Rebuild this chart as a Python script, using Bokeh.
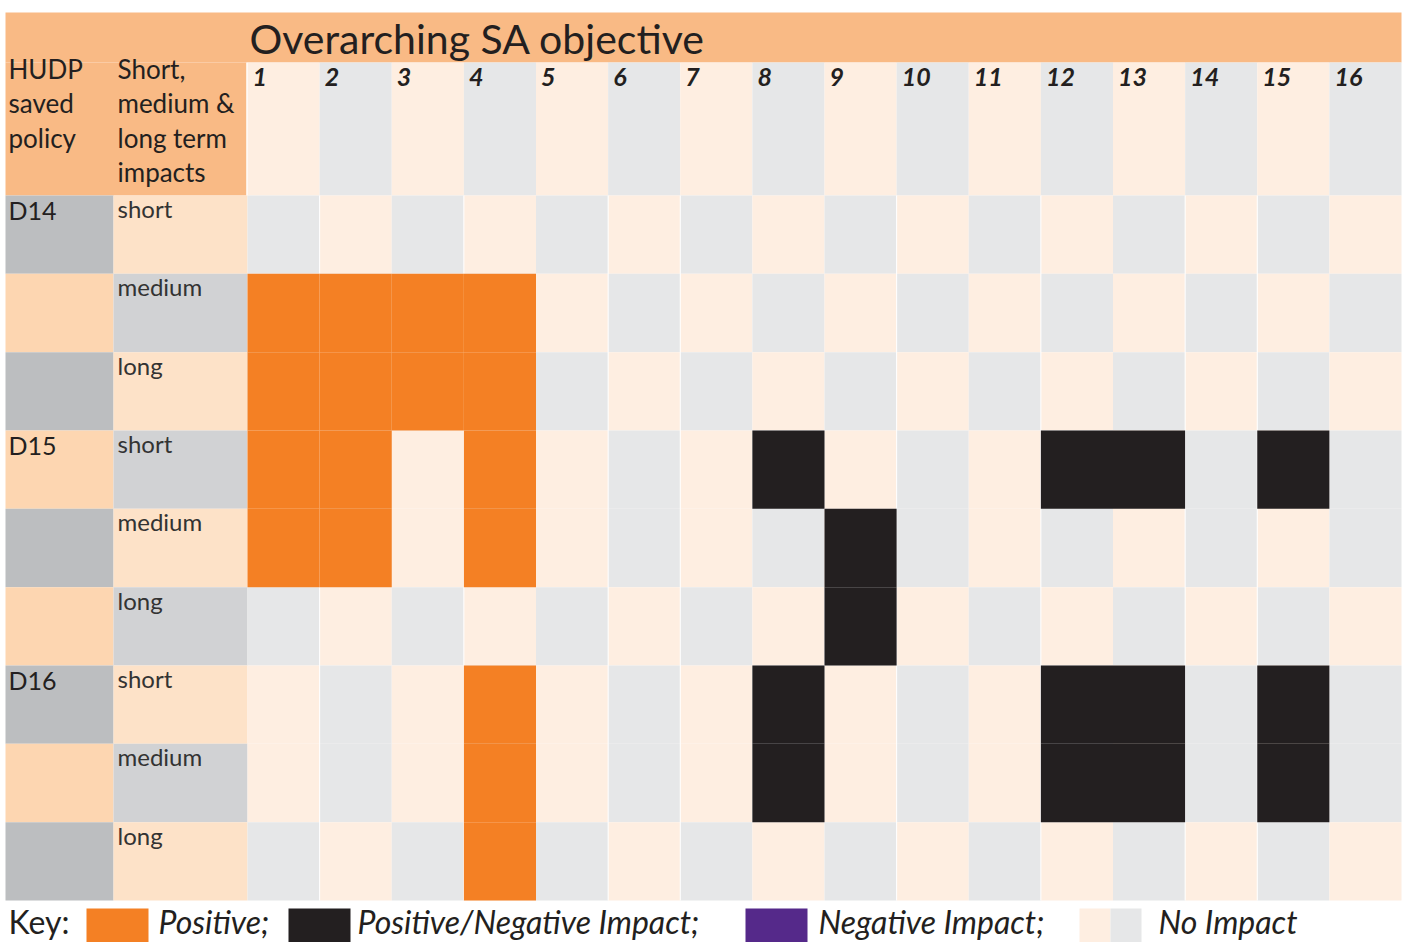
from bokeh.plotting import figure
from bokeh.models import Range1d
from bokeh.core.properties import value
from bokeh.embed import file_html
from bokeh.resources import INLINE

# ---------------- data ----------------
title = "Overarching SA objective"
objectives = ["1", "2", "3", "4", "5", "6", "7", "8", "9", "10", "11", "12", "13", "14", "15", "16"]
policies = ["D14", "D15", "D16"]
terms = ["short", "medium", "long"]
head_policy = ["HUDP", "saved", "policy"]
head_term = ["Short,", "medium &", "long term", "impacts"]
# 0 = no impact, 1 = positive, 2 = positive/negative, 3 = negative
d14_short  = [0, 0, 0, 0, 0, 0, 0, 0, 0, 0, 0, 0, 0, 0, 0, 0]
d14_medium = [1, 1, 1, 1, 0, 0, 0, 0, 0, 0, 0, 0, 0, 0, 0, 0]
d14_long   = [1, 1, 1, 1, 0, 0, 0, 0, 0, 0, 0, 0, 0, 0, 0, 0]
d15_short  = [1, 1, 0, 1, 0, 0, 0, 2, 0, 0, 0, 2, 2, 0, 2, 0]
d15_medium = [1, 1, 0, 1, 0, 0, 0, 0, 2, 0, 0, 0, 0, 0, 0, 0]
d15_long   = [0, 0, 0, 0, 0, 0, 0, 0, 2, 0, 0, 0, 0, 0, 0, 0]
d16_short  = [0, 0, 0, 1, 0, 0, 0, 2, 0, 0, 0, 2, 2, 0, 2, 0]
d16_medium = [0, 0, 0, 1, 0, 0, 0, 2, 0, 0, 0, 2, 2, 0, 2, 0]
d16_long   = [0, 0, 0, 1, 0, 0, 0, 0, 0, 0, 0, 0, 0, 0, 0, 0]
impact_rows = [d14_short, d14_medium, d14_long,
               d15_short, d15_medium, d15_long,
               d16_short, d16_medium, d16_long]
key_labels = ["Positive;", "Positive/Negative Impact;", "Negative Impact;", "No Impact"]

# ---------------- style ----------------
FONT = "Lato"
HEAD_ORANGE = "#F9BA85"
POS = "#F48024"
MIX = "#231F20"
NEG = "#55298A"
PEACH = "#FEEEE1"
GREY = "#E6E7E8"
A_GREY, A_PEACH = "#BCBEC0", "#FDD6B1"
B_GREY, B_PEACH = "#D1D2D4", "#FDE2C8"
TXT = "#231F20"
impact_color = {1: POS, 2: MIX, 3: NEG}
# background stripe phase per body row: 1 -> odd objectives peach, 0 -> even objectives peach
row_phase = [0, 1, 0, 1, 1, 0, 1, 1, 0]
white_gap_cols = [1, 3, 5, 6, 9, 11, 13, 14]   # column boundaries showing a hairline gap
DY = -10  # baseline correction for text

X0, XA, XB, XR = 5, 113, 247, 1401
TOP, BAND, HDR, BOT = 12, 62, 195, 900
ncol = len(objectives)
nrow = len(impact_rows)
cw = (XR - XB) / ncol
rh = (BOT - HDR) / nrow

W, H = 1405, 942
p = figure(width=W, height=H, x_range=Range1d(0, W), y_range=Range1d(H, 0),
           output_backend="svg", toolbar_location=None, min_border=0)
p.axis.visible = False
p.grid.visible = False
p.outline_line_color = None
p.background_fill_color = "white"

# header band
p.quad(left=[X0, X0], right=[XR, XB], top=[TOP, BAND], bottom=[BAND, HDR],
       fill_color=HEAD_ORANGE, line_color=None)

# header number cells
hl, hr, hc = [], [], []
for c in range(ncol):
    hl.append(XB + c * cw); hr.append(XB + (c + 1) * cw)
    hc.append(PEACH if c % 2 == 0 else GREY)
p.quad(left=hl, right=hr, top=[BAND] * ncol, bottom=[HDR] * ncol, fill_color=hc, line_color=None)

# body background cells
L, R, T, B, C = [], [], [], [], []
IL, IR, IT, IB, IC = [], [], [], [], []
for r, row in enumerate(impact_rows):
    rr = r + 1
    t = HDR + r * rh
    b = HDR + (r + 1) * rh
    L += [X0, XA]; R += [XA, XB]; T += [t, t]; B += [b, b]
    C += [A_GREY if rr % 2 == 1 else A_PEACH, B_PEACH if rr % 2 == 1 else B_GREY]
    for c, v in enumerate(row):
        cc = c + 1
        L.append(XB + c * cw); R.append(XB + (c + 1) * cw); T.append(t); B.append(b)
        C.append(PEACH if (cc % 2) == row_phase[r] else GREY)
        if v in impact_color:
            IL.append(XB + c * cw); IR.append(XB + (c + 1) * cw); IT.append(t); IB.append(b)
            IC.append(impact_color[v])
p.quad(left=L, right=R, top=T, bottom=B, fill_color=C, line_color=None)

# hairline gaps between some columns
gx = [XB + k * cw for k in white_gap_cols]
p.segment(x0=gx, y0=[HDR] * len(gx), x1=gx, y1=[BOT] * len(gx), line_color="white", line_width=1)

# impact cells
p.quad(left=IL, right=IR, top=IT, bottom=IB, fill_color=IC, line_color=None)

# thin white separator left of objective grid
p.segment(x0=[XB - 0.5], y0=[BAND], x1=[XB - 0.5], y1=[HDR], line_color="white", line_width=1.5)

# title
p.text(x=[249], y=[48 + DY], text=[title], text_font=value(FONT), text_font_size="41px",
       text_color=TXT, text_baseline="alphabetic")

# header labels
p.text(x=[8] * len(head_policy), y=[78 + DY + 34.5 * i for i in range(len(head_policy))], text=head_policy,
       text_font=value(FONT), text_font_size="26px", text_color=TXT, text_baseline="alphabetic")
p.text(x=[117] * len(head_term), y=[78 + DY + 34.5 * i for i in range(len(head_term))], text=head_term,
       text_font=value(FONT), text_font_size="26px", text_color=TXT, text_baseline="alphabetic")

# objective numbers
p.text(x=[XB + c * cw + 5 for c in range(ncol)], y=[86 + DY] * ncol, text=objectives,
       text_font=value(FONT), text_font_size="25px", text_font_style="bold italic",
       text_color=TXT, text_baseline="alphabetic")

# row labels
p.text(x=[8] * len(policies), y=[HDR + 3 * i * rh + 24 + DY for i in range(len(policies))], text=policies,
       text_font=value(FONT), text_font_size="25px", text_color=TXT, text_baseline="alphabetic")
tx, ty, tt = [], [], []
for i in range(len(policies)):
    for j, term in enumerate(terms):
        tx.append(117); ty.append(HDR + (3 * i + j) * rh + 23 + DY); tt.append(term)
p.text(x=tx, y=ty, text=tt, text_font=value(FONT), text_font_size="24px", text_color="#333333",
       text_baseline="alphabetic")

# key
p.text(x=[8], y=[931 + DY], text=["Key:"], text_font=value(FONT), text_font_size="32px",
       text_color=TXT, text_baseline="alphabetic")
p.quad(left=[86, 288, 745, 1079, 1110], right=[148, 350, 807, 1110, 1141],
       top=[908] * 5, bottom=[942] * 5, fill_color=[POS, MIX, NEG, PEACH, GREY], line_color=None)
p.text(x=[158, 357, 818, 1158], y=[931 + DY] * 4, text=key_labels, text_font=value(FONT),
       text_font_size="32px", text_font_style="italic", text_color=TXT, text_baseline="alphabetic")

open("out.html", "w").write(file_html(p, INLINE))
